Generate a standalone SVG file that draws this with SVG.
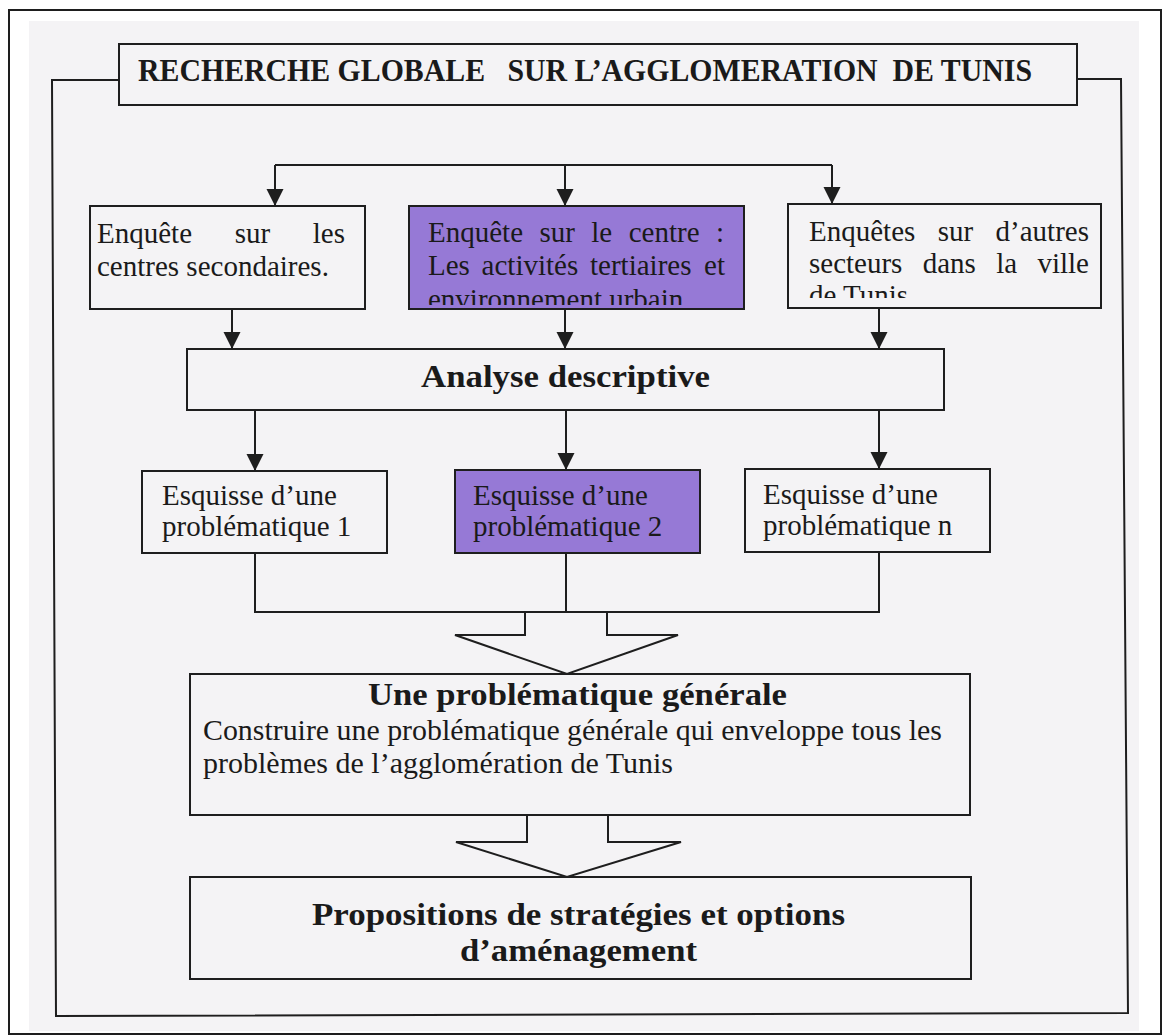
<svg xmlns="http://www.w3.org/2000/svg" width="1165" height="1035" viewBox="0 0 1165 1035">
<defs>
<marker id="ah" markerUnits="userSpaceOnUse" markerWidth="18" markerHeight="18" refX="17" refY="9" orient="auto" viewBox="0 0 18 18">
<path d="M0,0.5 L17,9 L0,17.5 z" fill="#1e1e1e"/>
</marker>
<clipPath id="c2"><rect x="409" y="206" width="335" height="99"/></clipPath>
<clipPath id="c3"><rect x="788" y="204" width="313" height="94"/></clipPath>
</defs>
<style>
.ln{fill:none;stroke:#1e1e1e;stroke-width:2}
.bx{fill:#f4f3f5;stroke:#1e1e1e;stroke-width:2}
.pp{fill:#9679d6;stroke:#1e1e1e;stroke-width:2}
.t{font-family:"Liberation Serif","Times New Roman",serif;font-size:29px;fill:#1a1a1a}
.b{font-family:"Liberation Serif","Times New Roman",serif;font-weight:bold;font-size:31px;fill:#1a1a1a}
</style>
<rect x="0" y="0" width="1165" height="1035" fill="#ffffff"/>
<rect x="9" y="10" width="1152" height="1024" fill="#ffffff" stroke="#1e1e1e" stroke-width="2"/>
<rect x="29" y="21" width="1110" height="1010" fill="#f4f3f5"/>

<g id="frame">
<path class="ln" d="M119,80 H52 L56,1016 L1128,1013 L1121,79 H1077"/>
</g>

<g id="title">
<rect class="bx" x="119" y="44" width="958" height="61"/>
<text class="b" x="138" y="81" font-size="30" textLength="894" lengthAdjust="spacingAndGlyphs" xml:space="preserve">RECHERCHE GLOBALE   SUR L’AGGLOMERATION  DE TUNIS</text>
</g>

<g id="connectors">
<path class="ln" d="M275,165 H832"/>
<path class="ln" d="M275,165 V206" marker-end="url(#ah)"/>
<path class="ln" d="M565,165 V206" marker-end="url(#ah)"/>
<path class="ln" d="M832,165 V204" marker-end="url(#ah)"/>
<path class="ln" d="M232,309 V349" marker-end="url(#ah)"/>
<path class="ln" d="M565,309 V349" marker-end="url(#ah)"/>
<path class="ln" d="M879,308 V349" marker-end="url(#ah)"/>
<path class="ln" d="M255,410 V471" marker-end="url(#ah)"/>
<path class="ln" d="M566,410 V470" marker-end="url(#ah)"/>
<path class="ln" d="M879,410 V469" marker-end="url(#ah)"/>
<path class="ln" d="M255,553 V612 H879 V552"/>
<path class="ln" d="M566,553 V612"/>
<path class="ln" d="M525,612 V635 H455 L567,674 L678,635 H607 V612"/>
<path class="ln" d="M527,815 V842 H456 L567,877 L681,842 H608 V815"/>
</g>

<g id="n-centres-secondaires">
<rect class="bx" x="90" y="206" width="275" height="103"/>
<text class="t" y="243"><tspan x="97">Enquête</tspan><tspan x="234.7">sur</tspan><tspan x="345" text-anchor="end">les</tspan></text>
<text class="t" x="97" y="276">centres secondaires.</text>
</g>

<g id="n-centre">
<rect class="pp" x="409" y="206" width="335" height="103"/>
<g clip-path="url(#c2)">
<text class="t" y="242"><tspan x="428">Enquête</tspan><tspan x="539.5">sur</tspan><tspan x="591.3">le</tspan><tspan x="628.7">centre</tspan><tspan x="724" text-anchor="end">:</tspan></text>
<text class="t" y="275"><tspan x="428">Les</tspan><tspan x="481.6">activités</tspan><tspan x="590">tertiaires</tspan><tspan x="725" text-anchor="end">et</tspan></text>
<text class="t" x="428" y="309">environnement urbain</text>
</g>
</g>

<g id="n-autres-secteurs">
<rect class="bx" x="788" y="204" width="313" height="104"/>
<g clip-path="url(#c3)">
<text class="t" y="241"><tspan x="809">Enquêtes</tspan><tspan x="937.8">sur</tspan><tspan x="1089" text-anchor="end">d’autres</tspan></text>
<text class="t" y="273"><tspan x="809">secteurs</tspan><tspan x="922.7">dans</tspan><tspan x="996.2">la</tspan><tspan x="1089" text-anchor="end">ville</tspan></text>
<text class="t" x="809" y="305">de Tunis</text>
</g>
</g>

<g id="n-analyse">
<rect class="bx" x="187" y="349" width="757" height="61"/>
<text class="b" x="421" y="387" font-size="32" textLength="289" lengthAdjust="spacingAndGlyphs">Analyse descriptive</text>
</g>

<g id="n-esquisse-1">
<rect class="bx" x="142" y="471" width="245" height="82"/>
<text class="t" x="162" y="505">Esquisse d’une</text>
<text class="t" x="162" y="536">problématique 1</text>
</g>

<g id="n-esquisse-2">
<rect class="pp" x="455" y="470" width="245" height="83"/>
<text class="t" x="473" y="505">Esquisse d’une</text>
<text class="t" x="473" y="536">problématique 2</text>
</g>

<g id="n-esquisse-n">
<rect class="bx" x="745" y="469" width="245" height="83"/>
<text class="t" x="763" y="504">Esquisse d’une</text>
<text class="t" x="763" y="535">problématique n</text>
</g>

<g id="n-problematique-generale">
<rect class="bx" x="190" y="674" width="780" height="141"/>
<text class="b" x="368" y="705" font-size="32" textLength="419" lengthAdjust="spacingAndGlyphs">Une problématique générale</text>
<text class="t" x="203" y="740" textLength="739" lengthAdjust="spacingAndGlyphs">Construire une problématique générale qui enveloppe tous les</text>
<text class="t" x="203" y="773" textLength="470" lengthAdjust="spacingAndGlyphs">problèmes de l’agglomération de Tunis</text>
</g>

<g id="n-propositions">
<rect class="bx" x="190" y="877" width="781" height="102"/>
<text class="b" x="312" y="925" font-size="32" textLength="533" lengthAdjust="spacingAndGlyphs">Propositions de stratégies et options</text>
<text class="b" x="460" y="961" font-size="32" textLength="237" lengthAdjust="spacingAndGlyphs">d’aménagement</text>
</g>
</svg>
